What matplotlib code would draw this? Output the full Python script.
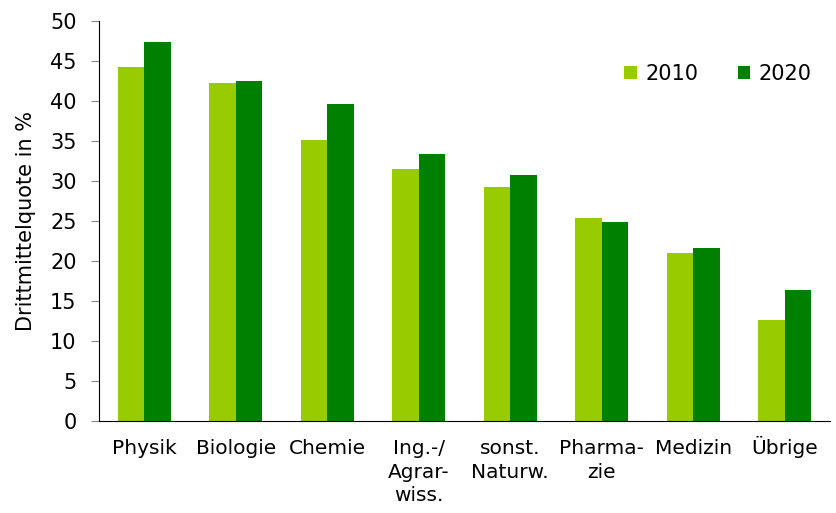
import numpy as np
import matplotlib.pyplot as plt
import matplotlib.transforms as mtrans

# Daten
kategorien = ["Physik", "Biologie", "Chemie", "Ing.-/\nAgrar-\nwiss.",
              "sonst.\nNaturw.", "Pharma-\nzie", "Medizin", "Übrige"]
werte_2010 = [44.3, 42.2, 35.1, 31.5, 29.2, 25.4, 21.0, 12.6]
werte_2020 = [47.4, 42.5, 39.6, 33.4, 30.7, 24.9, 21.6, 16.4]

plt.rcParams['font.family'] = ['DejaVu Sans']

fig = plt.figure(figsize=(8.37, 5.13), dpi=100)
ax = fig.add_axes([0.118, 0.179, 0.874, 0.780])

x = np.arange(len(kategorien)) + 0.5
b = 0.29
ax.bar(x - b/2, werte_2010, b, color="#99CC00", label="2010")
ax.bar(x + b/2, werte_2020, b, color="#008000", label="2020")

ax.set_xlim(0, len(kategorien))
ax.set_ylim(0, 50)
ax.set_yticks(range(0, 51, 5))
ax.set_xticks(x)
ax.set_xticklabels(kategorien, fontsize=14.5, va="top", linespacing=1.3)
ax.tick_params(axis="x", length=0, pad=13)
ax.tick_params(axis="y", labelsize=15, length=6, pad=10, color="#888888",
               direction="out")
ax.set_ylabel("Drittmittelquote in %", fontsize=15, labelpad=10)

# "Übrige": Umlautpunkte schieben das Label sonst nach unten
lbl = ax.get_xticklabels()[-1]
lbl.set_transform(lbl.get_transform() +
                  mtrans.ScaledTranslation(0, 0.035, fig.dpi_scale_trans))

ax.spines["top"].set_visible(False)
ax.spines["right"].set_visible(False)

ax.legend(loc="upper right", bbox_to_anchor=(1.0, 0.94), ncol=2, frameon=False,
          fontsize=15, handlelength=0.6, handleheight=0.6, handletextpad=0.4,
          columnspacing=1.9)

fig.savefig("out.png", dpi=100)
